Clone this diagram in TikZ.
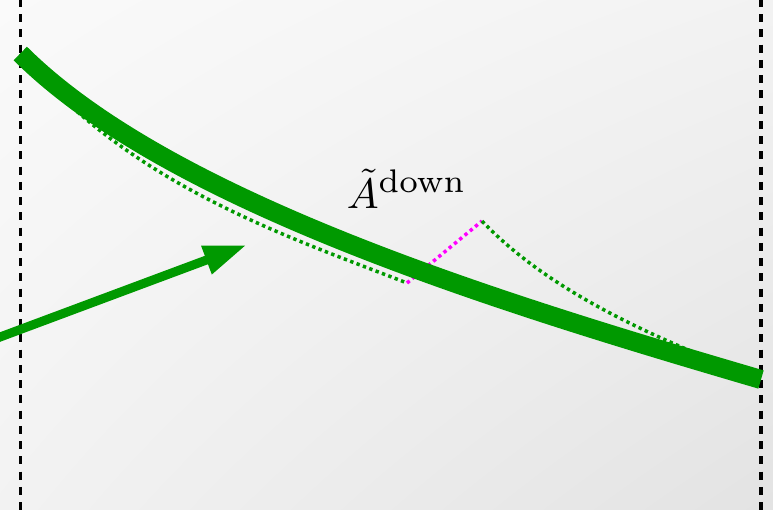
\documentclass[tikz,border=0pt]{standalone}
\usepackage{graphicx}
\usetikzlibrary{arrows.meta,shadings}
\definecolor{grn}{RGB}{0,153,0}
\definecolor{mag}{RGB}{255,0,255}
\tikzset{
  guideline/.style={black, line width=3.5pt, dash pattern=on 8pt off 7.25pt},
  thickcurve/.style={grn, line width=19pt, line cap=butt},
  dotcurve/.style={grn, line width=3.5pt, dash pattern=on 3.4pt off 3.4pt},
  magline/.style={mag, line width=3.5pt, dash pattern=on 3.4pt off 3.4pt},
  arrowline/.style={grn, line width=9pt, -{Triangle[length=43pt,width=28pt]}},
  labelnode/.style={anchor=base west, inner sep=0pt, scale=4.25}
}
\begin{document}
\begin{tikzpicture}[x=1pt,y=-1pt]
\useasboundingbox (0,0) rectangle (773,509);
\clip (0,0) rectangle (773,509);
\shade[upper left=black!2, upper right=black!5, lower left=black!5, lower right=black!11] (0,0) rectangle (773,509);
% guide lines
\coordinate (gl1) at (20.3,-1.2);
\coordinate (gl2) at (20.3,515);
\coordinate (gr1) at (761.2,-1.2);
\coordinate (gr2) at (761.2,515);
\draw[guideline] (gl1) -- (gl2);
\draw[guideline] (gr1) -- (gr2);
% key points
\coordinate (L) at (20.3,53.5);
\coordinate (R) at (761,379.5);
\coordinate (M1) at (407,283);
\coordinate (M2) at (482,221);
% dotted curves
\draw[dotcurve] (L) .. controls (130.5,185.5) and (287,236.2) .. (M1);
\draw[magline] (M1) -- (M2);
\draw[dotcurve] (M2) .. controls (552,294.5) and (660,340) .. (R);
% thick curve
\draw[thickcurve] (L) .. controls (170.5,203.5) and (510.5,306) .. (R);
% arrow
\coordinate (A0) at (-20,344.5);
\coordinate (A1) at (246.7,245);
\draw[arrowline] (A0) -- (A1);
% label
\node[labelnode] (lab) at (346,208.3) {$\tilde{A}^{\scalebox{1.1}{$\scriptstyle\mathrm{down}$}}$};
\end{tikzpicture}
\end{document}
